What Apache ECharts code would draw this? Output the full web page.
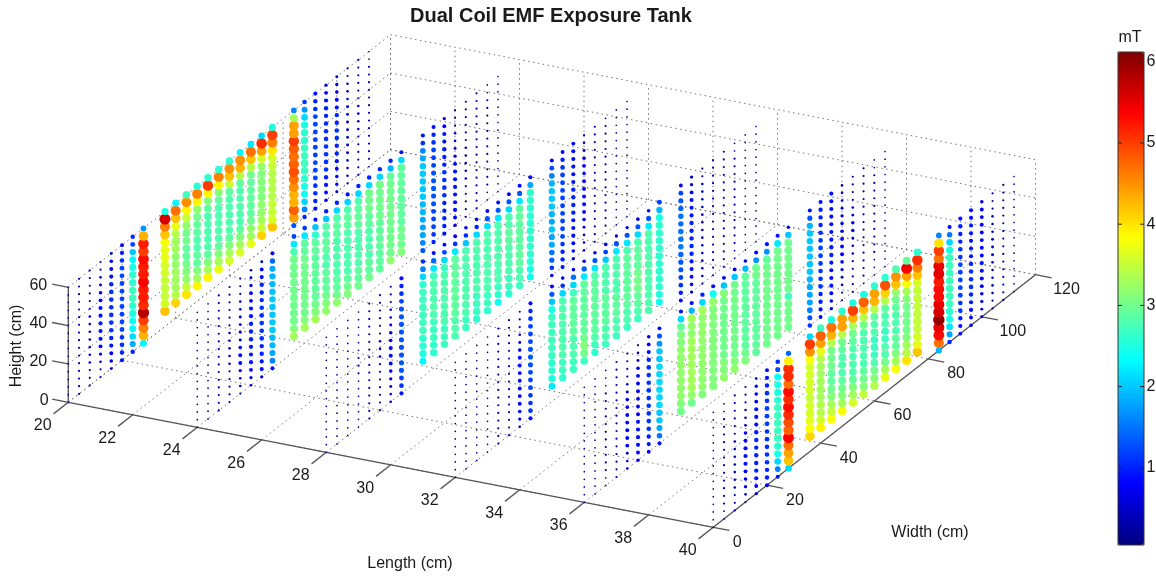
<!DOCTYPE html>
<html><head><meta charset="utf-8">
<style>html,body{margin:0;padding:0;background:#fff}#c{width:1156px;height:577px}</style>
<script src="https://cdn.jsdelivr.net/npm/echarts@6/dist/echarts.min.js"></script>
</head><body><div id="c"></div>
<script>
// Values are field strength in tenths of a mT, one inner list per width column, bottom to top.
const lengthTicks=[20,22,24,26,28,30,32,34,36,38,40];
const widthTicks=[0,20,40,60,80,100,120];
const heightTicks=[0,20,40,60];
const colorbarTicks=[1,2,3,4,5,6];
const planeLengths=[20,24,28,32,36,40];
const widths=[0,4,8,12,16,20,24,28,36,40,44,48,52,56,60,64,68,72,76,84,88,92,96,100,104,108,112];
const heights=[0,4,8,12,16,20,24,28,32,36,40,44,48,52,56,60];
const planeL20=[
[2,2,2,2,2,2,2,2,2,2,2,2,2,2,2,2],
[3,3,3,3,3,3,3,3,3,3,3,3,3,3,3,3],
[3,3,3,4,4,4,4,4,4,4,3,3,3,3,3,3],
[3,3,4,6,8,9,9,9,9,9,8,7,5,4,3,3],
[5,7,8,9,10,11,11,11,11,11,11,10,9,8,7,5],
[9,10,11,11,12,12,12,12,12,12,12,12,12,11,10,8],
[10,18,21,23,24,25,26,27,27,26,26,25,23,20,12,10],
[23,43,46,50,58,51,52,52,54,52,52,53,50,52,43,17],
[42,36,35,35,35,36,36,37,37,38,42,46,56,25],
[41,34,33,33,33,32,32,33,33,34,37,42,47,23],
[40,35,32,31,30,29,29,30,30,32,35,39,45,27],
[39,33,31,29,29,28,28,29,29,30,32,39,46,26],
[39,33,31,29,28,28,28,28,28,29,31,39,50,26],
[37,33,31,29,28,28,28,28,28,29,31,39,46,26],
[36,33,31,29,28,28,28,28,28,29,35,42,45,26],
[36,33,31,29,28,28,28,28,28,29,34,43,45,23],
[37,33,32,30,29,29,29,29,29,30,34,42,47,22],
[41,35,33,32,32,31,31,31,31,32,36,44,51,21],
[42,36,35,35,34,34,34,34,35,36,40,46,50,25],
[13,44,48,43,43,45,47,49,48,47,48,50,44,44,33,16],
[10,16,21,24,25,26,27,27,27,27,26,26,25,21,17,11],
[9,10,11,11,12,12,12,12,12,12,12,12,12,11,10,9],
[7,8,9,10,11,11,11,11,11,11,11,10,10,9,8,6],
[5,6,7,8,9,10,10,11,11,10,10,9,8,7,6,5],
[3,4,4,4,5,5,5,5,5,5,5,4,4,4,3,3],
[3,3,3,3,3,3,4,4,4,4,3,3,3,3,3,3],
[2,3,3,3,3,3,3,3,3,3,3,3,3,3,2,2]];
const planeL24=[
[2,2,2,2,2,2,2,2,2,2,2,2,2,2,2,2],
[2,2,2,2,2,2,2,2,2,2,2,2,2,2,2,2],
[3,3,3,3,3,3,3,3,3,3,3,3,3,3,3,3],
[3,3,3,3,3,4,4,4,4,4,3,3,3,3,3,3],
[3,4,4,6,8,8,7,5,5,5,5,4,4,3,3,3],
[4,6,8,9,9,9,10,10,10,9,9,8,8,6,5,4],
[6,9,9,10,10,11,11,11,11,11,10,10,10,9,8,5],
[9,16,18,19,19,20,20,20,20,20,20,19,19,18,14,9],
[33,31,30,30,30,30,30,30,30,30,30,28,22,12],
[33,31,30,30,30,30,30,30,30,30,29,29,22,11],
[33,31,30,29,29,29,29,29,29,29,29,26,20,9],
[32,31,30,29,29,29,28,28,29,29,28,28,20,10],
[32,30,29,29,28,28,28,28,28,29,29,28,21,10],
[31,30,29,28,28,28,28,28,28,29,29,28,21,9],
[30,29,29,28,28,28,28,28,29,29,29,28,21,10],
[30,29,29,28,28,28,28,29,29,30,30,30,21,10],
[29,29,29,29,29,29,29,30,30,30,30,30,21,10],
[32,30,30,30,30,30,30,30,30,30,30,29,19,10],
[31,30,30,30,29,29,29,29,29,29,29,29,21,9],
[13,16,18,18,18,19,19,20,20,20,20,20,18,16,11,9],
[10,11,12,12,12,13,13,13,13,13,12,12,12,11,10,9],
[9,10,10,10,10,11,11,11,11,10,10,10,9,9,8,6],
[7,8,9,9,9,9,9,9,8,6,5,4,4,3,3,3],
[3,3,3,3,3,4,4,4,4,4,3,3,3,3,3,3],
[3,3,3,3,3,3,3,3,3,3,3,3,3,3,3,3],
[2,2,3,3,3,3,3,3,3,3,3,3,3,3,2,2],
[2,2,2,2,2,2,2,2,2,2,2,2,2,2,2,2]];
const planeL28=[
[2,2,2,2,2,2,2,2,2,2,2,2,2,2,2,2],
[2,2,2,2,2,2,2,2,2,2,2,2,2,2,2,2],
[2,2,2,2,2,2,2,2,2,2,2,2,2,2,2,2],
[2,2,2,2,2,2,2,3,3,3,2,2,2,2,2,2],
[3,3,3,3,3,3,3,3,3,3,3,3,3,3,3,3],
[3,3,3,3,3,3,3,4,4,4,3,3,3,3,3,3],
[4,4,5,6,7,8,9,9,7,7,5,4,4,3,3,3],
[9,11,12,13,13,13,13,13,13,13,13,13,12,11,10,9],
[23,25,26,26,27,27,27,27,27,27,26,21,16,11],
[26,26,27,27,27,28,28,28,28,28,27,22,14,9],
[27,27,27,28,28,28,28,28,28,28,27,21,12,8],
[28,28,28,29,29,29,29,29,29,29,29,22,11,8],
[27,27,28,28,28,28,28,28,28,28,28,20,11,7],
[26,27,27,27,28,28,28,28,28,28,28,21,10,7],
[26,27,27,28,28,28,28,28,28,28,28,21,13,8],
[24,26,27,28,28,28,28,28,28,28,28,22,13,8],
[26,27,27,28,28,28,28,29,29,28,28,21,13,8],
[27,28,28,29,29,29,29,29,29,29,29,22,13,9],
[24,25,26,26,26,26,26,26,26,26,26,26,18,9],
[7,11,14,15,18,18,20,18,19,20,20,20,19,16,12,8],
[9,10,10,11,12,12,12,12,12,12,12,12,12,11,10,8],
[6,7,8,9,9,9,10,10,10,10,9,9,9,9,9,8],
[4,4,4,5,7,8,8,8,8,8,7,8,7,5,4,3],
[3,3,3,3,3,3,3,3,3,3,3,3,3,3,3,3],
[2,3,3,3,3,3,3,3,3,3,3,3,3,3,3,2],
[2,2,2,2,2,2,2,2,2,2,2,2,2,2,2,2],
[2,2,2,2,2,2,2,2,2,2,2,2,2,2,2,2]];
const planeL32=[
[2,2,2,2,2,2,2,2,2,2,2,2,2,2,2,2],
[2,2,2,2,2,2,2,2,2,2,2,2,2,2,2,2],
[2,2,2,2,2,2,2,2,2,2,2,2,2,2,2,2],
[2,2,2,2,2,2,2,2,2,2,2,2,2,2,2,2],
[3,3,3,3,3,3,3,3,3,3,3,3,3,3,3,3],
[3,3,3,3,3,3,3,3,3,3,3,3,3,3,3,3],
[4,6,7,8,8,8,8,8,8,8,7,5,4,3,3,3],
[9,11,11,11,12,12,12,13,13,13,12,12,12,11,10,9],
[22,25,26,26,27,27,27,27,27,27,25,20,13,8],
[26,27,27,28,28,28,28,28,28,28,28,21,11,7],
[27,27,28,28,28,29,29,29,29,29,27,21,15,7],
[27,30,31,30,29,29,29,29,29,29,29,22,14,7],
[26,27,28,29,29,29,29,29,29,29,28,22,13,7],
[27,28,28,29,29,29,29,28,28,28,28,20,12,7],
[27,28,28,29,29,29,28,28,28,28,28,22,13,6],
[27,28,28,29,29,29,29,29,29,29,28,22,13,6],
[27,28,29,29,30,30,30,29,29,29,28,21,13,7],
[28,28,28,28,28,28,28,28,28,28,28,22,13,7],
[24,25,26,26,26,26,26,26,26,26,26,25,19,12],
[8,10,11,12,13,13,14,15,15,15,14,15,14,13,12,8],
[6,7,8,9,9,10,10,10,10,10,9,9,9,8,6,6],
[3,4,4,4,4,4,4,4,4,4,4,4,4,4,3,3],
[3,3,3,3,3,3,3,3,3,3,3,3,3,3,3,3],
[3,3,3,3,3,3,3,3,3,3,3,3,3,3,3,3],
[2,2,3,3,3,3,3,3,3,3,3,3,3,3,2,2],
[2,2,2,2,2,2,2,2,2,2,2,2,2,2,2,2],
[2,2,2,2,2,2,2,2,2,2,2,2,2,2,2,2]];
const planeL36=[
[2,2,2,2,2,2,2,2,2,2,2,2,2,2,2,2],
[2,2,2,2,2,2,2,2,2,2,2,2,2,2,2,2],
[2,2,3,3,3,3,3,3,3,3,3,3,3,2,2,2],
[3,3,3,3,3,3,3,3,3,3,3,3,3,3,3,3],
[4,4,5,8,8,8,8,8,7,7,5,4,3,3,3,3],
[7,8,9,9,9,9,8,8,8,8,8,8,7,5,4,3],
[8,9,10,11,11,11,11,11,11,11,11,11,10,9,8,7],
[9,15,18,20,20,21,21,21,21,21,21,20,20,17,13,8],
[30,31,32,32,32,32,32,32,32,31,31,29,21,9],
[30,32,33,33,33,33,33,33,33,32,32,33,19,9],
[31,32,32,32,32,32,32,32,32,32,32,33,21,10],
[31,31,31,31,31,31,31,31,31,31,31,32,24,9],
[32,31,31,30,30,30,30,30,30,30,30,31,20,8],
[32,31,30,30,30,30,30,30,30,30,30,30,20,8],
[31,30,29,29,29,29,29,29,29,29,29,29,19,7],
[29,29,29,29,29,29,29,29,29,29,30,30,17,8],
[30,30,30,30,30,30,30,30,30,30,30,29,17,9],
[30,30,30,30,30,30,30,30,30,30,30,30,22,9],
[30,30,30,30,27,30,30,30,30,30,30,30,20,7],
[11,13,16,18,18,18,19,20,20,20,20,20,20,19,13,9],
[8,9,10,10,11,11,11,11,12,12,11,11,10,10,10,9],
[6,7,8,9,9,9,9,10,10,9,9,9,9,9,9,9],
[3,3,4,5,6,7,8,8,8,7,7,6,5,4,4,4],
[3,3,3,3,3,4,4,5,7,7,5,4,3,3,3,3],
[2,3,3,3,3,3,3,3,3,3,3,3,3,3,3,3],
[2,2,2,3,3,3,3,3,3,3,3,3,3,3,2,2],
[2,2,2,2,2,2,2,2,2,2,2,2,2,2,2,2]];
const planeL40=[
[2,2,2,2,2,2,2,2,2,2,2,2,2,2,2,2],
[2,2,3,3,3,3,3,3,3,3,3,3,3,3,2,2],
[3,3,3,4,4,4,4,4,4,4,3,3,3,3,3,3],
[3,4,6,7,8,9,9,9,8,7,5,4,4,3,3,3],
[6,8,9,10,10,10,10,10,10,9,9,9,8,7,6,4],
[8,10,10,11,11,11,11,11,12,12,12,11,11,10,9,8],
[9,16,21,25,26,27,27,27,27,27,26,25,25,24,13,11],
[21,42,44,47,54,48,49,51,53,51,53,47,51,51,39,14],
[41,38,37,36,36,35,36,36,36,36,38,45,50,21],
[39,36,34,34,33,33,33,33,33,34,37,44,48,27],
[38,35,33,31,30,29,29,30,30,30,34,43,47,25],
[38,33,31,30,29,28,28,28,29,30,34,44,44,26],
[36,33,31,29,28,28,28,28,29,30,33,43,50,25],
[35,31,30,29,28,28,28,28,28,30,34,42,48,25],
[34,31,30,28,27,27,27,28,28,29,34,43,44,26],
[37,33,30,28,28,27,27,28,28,29,34,41,49,26],
[38,33,31,29,29,28,28,28,29,30,32,42,45,28],
[40,34,33,31,30,30,30,30,31,33,38,44,54,29],
[42,37,36,35,35,35,35,35,35,36,42,46,51,26],
[19,47,53,55,60,56,55,53,53,52,55,55,47,50,40,16],
[10,18,22,25,26,27,27,27,27,27,27,27,25,21,15,9],
[8,9,10,11,11,12,12,12,12,12,11,11,10,10,10,9],
[7,8,9,9,10,11,11,11,10,9,9,9,9,9,9,9],
[5,5,6,7,8,9,9,9,8,8,8,8,8,8,8,7],
[3,3,4,4,4,4,4,5,5,5,4,4,4,3,3,3],
[3,3,3,3,3,3,3,3,3,3,3,3,3,3,3,3],
[2,2,2,2,2,2,2,2,2,2,2,2,2,2,2,2]];
const planes=[planeL20,planeL24,planeL28,planeL32,planeL36,planeL40];

// Orthographic view of the tank: length, width and height onto the page.
const view={ox:68.3,oy:402.3,lx:32.25,ly:6.25,wx:2.685,wy:-2.105,hy:-1.917};
function project(l,w,h){
  const dl=l-lengthTicks[0];
  return [view.ox+view.lx*dl+view.wx*w, view.oy+view.ly*dl+view.wy*w+view.hy*h];
}
const L0=20,L1=40,W0=0,W1=120,H0=0,H1=60;
const gridSegs=[];
function seg(list,a,b){const p=project(...a),q=project(...b);list.push([p[0],p[1],q[0],q[1]]);}
widthTicks.forEach(w=>{seg(gridSegs,[L0,w,H0],[L1,w,H0]);seg(gridSegs,[L0,w,H0],[L0,w,H1]);});
lengthTicks.forEach(l=>{seg(gridSegs,[l,W0,H0],[l,W1,H0]);seg(gridSegs,[l,W1,H0],[l,W1,H1]);});
heightTicks.forEach(h=>{seg(gridSegs,[L0,W0,h],[L0,W1,h]);seg(gridSegs,[L0,W1,h],[L1,W1,h]);});
const axisSegs=[];
seg(axisSegs,[L0,W0,H0],[L1,W0,H0]);seg(axisSegs,[L1,W0,H0],[L1,W1,H0]);seg(axisSegs,[L0,W0,H0],[L0,W0,H1]);
lengthTicks.forEach(l=>seg(axisSegs,[l,W0,H0],[l,-5.5,H0]));
widthTicks.forEach(w=>seg(axisSegs,[L1,w,H0],[L1+0.5,w,H0]));
heightTicks.forEach(h=>seg(axisSegs,[L0,W0,h],[L0-0.5,W0,h]));
const barTickSegs=[];
colorbarTicks.forEach(v=>{barTickSegs.push([0,v,0.15,v]);barTickSegs.push([0.85,v,1,v]);});

function lineSeries(data,stroke,width,dash,z,axisIndex){
  return {type:'custom',coordinateSystem:'cartesian2d',xAxisIndex:axisIndex,yAxisIndex:axisIndex,silent:true,z:z,animation:false,clip:false,
    encode:{x:[0,2],y:[1,3]},data:data,
    renderItem:(p,api)=>{const a=api.coord([api.value(0),api.value(1)]),b=api.coord([api.value(2),api.value(3)]);
      return {type:'line',shape:{x1:a[0],y1:a[1],x2:b[0],y2:b[1]},style:{stroke:stroke,lineWidth:width,lineDash:dash,fill:null}};}};
}
function labelSeries(items,axisIndex,z){
  return {type:'scatter',xAxisIndex:axisIndex,yAxisIndex:axisIndex,silent:true,z:z,animation:false,symbolSize:1,clip:false,
    itemStyle:{color:'rgba(0,0,0,0)',opacity:1},data:items,
    label:{show:true,position:'inside',color:'#1a1a1a',fontFamily:'Liberation Sans',fontSize:16,formatter:p=>p.value[2]}};
}
const planeSeries=planes.map((cols,pi)=>{
  const pts=[];
  cols.forEach((col,ci)=>{
    const skip=heights.length-col.length;
    col.forEach((t,ri)=>{const p=project(planeLengths[pi],widths[ci],heights[ri+skip]);pts.push([p[0],p[1],t/10]);});
  });
  return {type:'scatter',xAxisIndex:0,yAxisIndex:0,z:3,silent:true,animation:false,large:false,progressive:0,
    itemStyle:{opacity:1},data:pts,symbolSize:v=>12*Math.sqrt(v[2]/6)-0.5};
});
const labels=[];
lengthTicks.forEach(l=>{const p=project(l,W0,H0);labels.push([p[0]-25.6,p[1]+23.5,String(l)]);});
widthTicks.forEach(w=>{const p=project(L1,w,H0);labels.push([p[0]+28-(w===0?4:0)+(w>=100?3:0),p[1]+15,String(w)]);});
heightTicks.forEach(h=>{const p=project(L0,W0,h);labels.push([p[0]-(h===0?24:30),p[1]-2,String(h)]);});
const barLabels=colorbarTicks.map(v=>[1.27,v,String(v)]);

const option={
  animation:false,backgroundColor:'#fff',
  title:{text:'Dual Coil EMF Exposure Tank',left:546,top:1,textAlign:'center',
    textStyle:{fontFamily:'Liberation Sans',fontSize:20,fontWeight:'bold',color:'#1a1a1a'}},
  grid:[{left:0,top:0,width:1156,height:577,show:false},{left:1118,top:52,width:26,height:493,show:false}],
  xAxis:[{type:'value',gridIndex:0,min:0,max:1156,show:false},
         {type:'value',gridIndex:1,min:0,max:1,show:false}],
  yAxis:[{type:'value',gridIndex:0,min:0,max:577,inverse:true,show:false},
    {type:'value',gridIndex:1,position:'right',min:0.05,max:6.12,show:false}],
  visualMap:{type:'continuous',min:0.05,max:6.12,dimension:2,seriesIndex:[0,1,2,3,4,5],
    left:1118,top:52,itemWidth:26,itemHeight:493,padding:0,calculable:false,text:null,hoverLink:false,realtime:false,
    inRange:{color:['#000080','#0000ff','#0080ff','#00ffff','#80ff80','#ffff00','#ff8000','#ff0000','#800000']}},
  graphic:[
    {type:'rect',z:100,silent:true,shape:{x:1118,y:52,width:26,height:493},style:{fill:null,stroke:'#333',lineWidth:1}},
    {type:'text',silent:true,x:1130,y:38,style:{text:'mT',align:'center',verticalAlign:'middle',font:'16px "Liberation Sans"',fill:'#1a1a1a'}},
    {type:'text',silent:true,x:410,y:564,style:{text:'Length (cm)',align:'center',verticalAlign:'middle',font:'16px "Liberation Sans"',fill:'#1a1a1a'}},
    {type:'text',silent:true,x:930,y:533,style:{text:'Width (cm)',align:'center',verticalAlign:'middle',font:'16px "Liberation Sans"',fill:'#1a1a1a'}},
    {type:'text',silent:true,x:17,y:346,rotation:Math.PI/2,style:{text:'Height (cm)',align:'center',verticalAlign:'middle',font:'16px "Liberation Sans"',fill:'#1a1a1a'}}
  ],
  series:[...planeSeries,
    lineSeries(gridSegs,'#777',1,[1.5,3.5],1,0),
    lineSeries(axisSegs,'#555',1.3,null,2,0),
    labelSeries(labels,0,5),
    lineSeries(barTickSegs,'#222',1,null,20,1),
    labelSeries(barLabels,1,20)]
};
echarts.init(document.getElementById('c')).setOption(option);
</script></body></html>
